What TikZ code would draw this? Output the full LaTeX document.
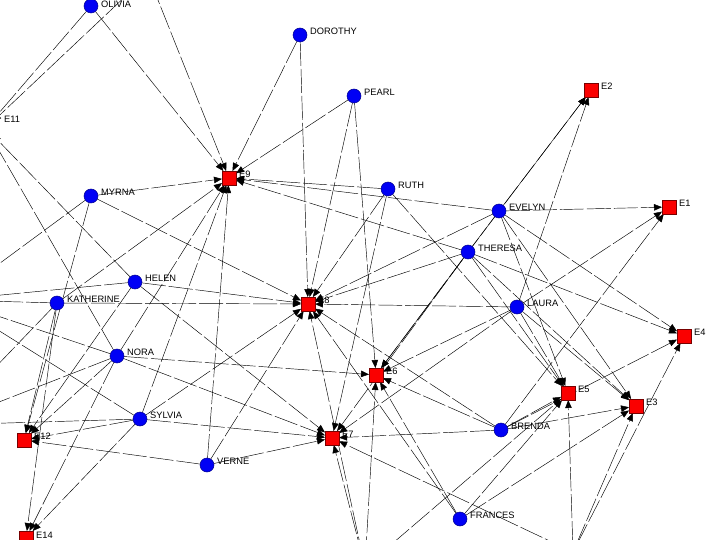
\documentclass[tikz,border=0pt]{standalone}
\usepackage{fontspec}
\setmainfont{Liberation Sans}
\usetikzlibrary{arrows.meta}
\definecolor{wblue}{RGB}{0,0,245}
\definecolor{wblueD}{RGB}{0,0,140}
\definecolor{ered}{RGB}{250,0,0}
\definecolor{eredD}{RGB}{120,0,0}
\pgfdeclarelayer{bg}
\pgfsetlayers{bg,main}
\tikzset{
  woman/.style={circle, fill=wblue, draw=wblueD, line width=0.5pt, minimum size=14pt, inner sep=0pt, outer sep=0pt},
  event/.style={rectangle, fill=ered, draw=eredD, line width=0.6pt, minimum size=14pt, inner sep=0pt, outer sep=0pt},
  lbl/.style={font=\fontsize{9.3}{10}\selectfont, text=black, inner sep=0pt, xshift=3pt, yshift=4pt},
  tie/.style={draw=black, line width=0.45pt, dash pattern=on 24pt off 3pt, -{Triangle[length=8pt,width=6.5pt]}},
}
\begin{document}
\begin{tikzpicture}[x=1pt,y=-1pt]
\useasboundingbox (0,0) rectangle (720,540);
\clip (0,0) rectangle (720,540);
% women
\node[woman, label={[lbl,yshift=-2pt]0:OLIVIA}] (OLIVIA) at (91,6) {};
\node[woman] (FLORA) at (148,-25) {};
\node[woman, label={[lbl]0:DOROTHY}] (DOROTHY) at (300,35) {};
\node[woman, label={[lbl]0:PEARL}] (PEARL) at (354,96) {};
\node[woman, label={[lbl]0:MYRNA}] (MYRNA) at (91,196) {};
\node[woman, label={[lbl]0:RUTH}] (RUTH) at (388,189) {};
\node[woman, label={[lbl]0:EVELYN}] (EVELYN) at (499,211) {};
\node[woman, label={[lbl]0:THERESA}] (THERESA) at (468,252) {};
\node[woman, label={[lbl]0:HELEN}] (HELEN) at (135,282) {};
\node[woman, label={[lbl]0:KATHERINE}] (KATHERINE) at (57,303) {};
\node[woman, label={[lbl]0:LAURA}] (LAURA) at (517,307) {};
\node[woman, label={[lbl]0:NORA}] (NORA) at (117,356) {};
\node[woman, label={[lbl]0:SYLVIA}] (SYLVIA) at (140,419) {};
\node[woman, label={[lbl]0:BRENDA}] (BRENDA) at (501,430) {};
\node[woman, label={[lbl]0:VERNE}] (VERNE) at (207,465) {};
\node[woman, label={[lbl]0:FRANCES}] (FRANCES) at (460,519) {};
\node[woman] (ELEANOR) at (365,567) {};
\node[woman] (CHARLOTTE) at (573,552) {};
% events
\node[event, label={[lbl]0:E1}] (E1) at (669,207) {};
\node[event, label={[lbl]0:E2}] (E2) at (591,90) {};
\node[event, label={[lbl]0:E3}] (E3) at (636,406) {};
\node[event, label={[lbl]0:E4}] (E4) at (684,336) {};
\node[event, label={[lbl]0:E5}] (E5) at (568,393) {};
\node[event, label={[lbl]0:E6}] (E6) at (376,375) {};
\node[event, label={[lbl]0:E7}] (E7) at (332,438) {};
\node[event, label={[lbl]0:E8}] (E8) at (308,304) {};
\node[event, label={[lbl]0:E9}] (E9) at (229,178) {};
\node[event] (E10) at (-50,300) {};
\node[event] (E11) at (-14,128) {};
\node[event] (E13) at (-60,425) {};
\node[lbl, anchor=west, xshift=0pt, yshift=0pt] (E11lbl) at (1,123) {E11};
\node[event, label={[lbl]0:E12}] (E12) at (24,440) {};
\node[event, label={[lbl,yshift=-1pt]0:E14}] (E14) at (26,538) {};
% ties
\begin{pgfonlayer}{bg}
\fill[white] (0,0) rectangle (720,540);
\foreach \w/\es in {
  EVELYN/{E1,E2,E3,E4,E5,E6,E8,E9},
  LAURA/{E1,E2,E3,E5,E6,E7,E8},
  THERESA/{E2,E3,E4,E5,E6,E7,E8,E9},
  BRENDA/{E1,E3,E4,E5,E6,E7,E8},
  CHARLOTTE/{E3,E4,E5,E7},
  FRANCES/{E3,E5,E6,E8},
  ELEANOR/{E5,E6,E7,E8},
  PEARL/{E6,E8,E9},
  RUTH/{E5,E7,E8,E9},
  VERNE/{E7,E8,E9,E12},
  MYRNA/{E8,E9,E10,E12},
  KATHERINE/{E8,E9,E10,E12,E13,E14},
  SYLVIA/{E7,E8,E9,E10,E12,E13,E14},
  NORA/{E6,E7,E9,E10,E11,E12,E13,E14},
  HELEN/{E7,E8,E10,E11,E12},
  DOROTHY/{E8,E9},
  OLIVIA/{E9,E11},
  FLORA/{E9,E11}}
  \foreach \e in \es
    \draw[tie] (\w) -- (\e);
\end{pgfonlayer}
\end{tikzpicture}
\end{document}
